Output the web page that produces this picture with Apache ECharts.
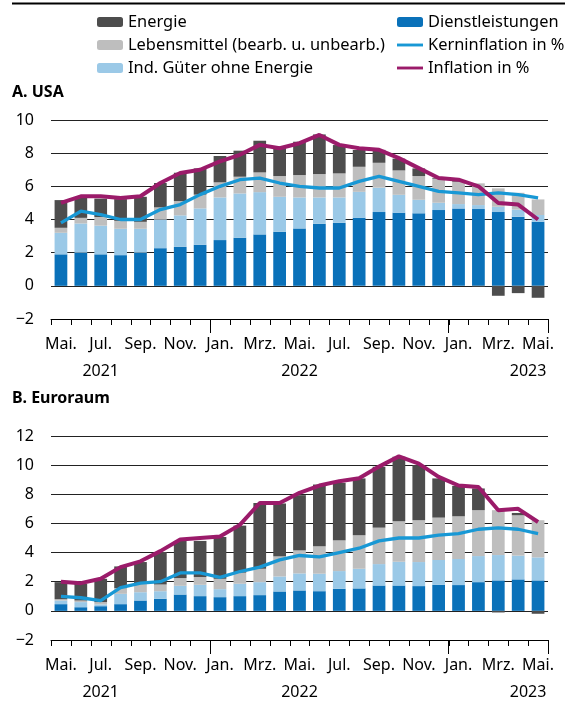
<!DOCTYPE html>
<html>
<head>
<meta charset="utf-8">
<script src="https://cdn.jsdelivr.net/npm/echarts@6/dist/echarts.min.js"></script>
<style>
  html, body { margin: 0; padding: 0; background: #fff; }
  #chart { width: 576px; height: 702px; }
</style>
</head>
<body>
<div id="chart"></div>
<script>
// categories (May 2021 - May 2023)
var cats = ['2021-05','2021-06','2021-07','2021-08','2021-09','2021-10','2021-11','2021-12',
            '2022-01','2022-02','2022-03','2022-04','2022-05','2022-06','2022-07','2022-08',
            '2022-09','2022-10','2022-11','2022-12','2023-01','2023-02','2023-03','2023-04','2023-05'];
var monthLabels = ['Mai.','Jun.','Jul.','Aug.','Sep.','Okt.','Nov.','Dez.','Jan.','Feb.','Mrz.','Apr.',
                   'Mai.','Jun.','Jul.','Aug.','Sep.','Okt.','Nov.','Dez.','Jan.','Feb.','Mrz.','Apr.','Mai.'];
var yearIndex = [2, 12, 24];
var yearLabels = ['2021', '2022', '2023'];
var yearTickIndex = [8, 20];   // January: longer tick on the left edge of the band

// A. USA
var usDienst  = [1.9, 2.0, 1.9, 1.85, 2.0, 2.27, 2.35, 2.47, 2.76, 2.9, 3.1, 3.26, 3.46, 3.74, 3.8, 4.1, 4.45, 4.4, 4.37, 4.57, 4.67, 4.63, 4.45, 4.17, 3.86];
var usGueter  = [1.3, 1.76, 1.73, 1.59, 1.44, 1.73, 1.9, 2.2, 2.57, 2.67, 2.55, 2.11, 1.87, 1.59, 1.53, 1.57, 1.47, 1.09, 0.82, 0.44, 0.26, 0.24, 0.32, 0.43, 0.41];
var usLebens  = [0.3, 0.34, 0.52, 0.48, 0.42, 0.73, 0.86, 0.83, 0.91, 1.01, 1.19, 1.25, 1.35, 1.41, 1.45, 1.51, 1.5, 1.47, 1.43, 1.45, 1.35, 1.31, 1.11, 1.01, 0.94];
var usEnergie = [1.67, 1.23, 1.11, 1.31, 1.51, 1.47, 1.71, 1.58, 1.59, 1.57, 1.91, 1.77, 2.01, 2.39, 1.71, 1.01, 0.78, 0.71, 0.46, 0.05, 0.1, -0.05, -0.6, -0.44, -0.72];
var usKern    = [3.8, 4.5, 4.3, 4.0, 4.0, 4.6, 4.9, 5.5, 6.0, 6.4, 6.5, 6.2, 6.0, 5.9, 5.9, 6.3, 6.6, 6.3, 6.0, 5.7, 5.6, 5.5, 5.6, 5.5, 5.3];
var usInfl    = [5.0, 5.4, 5.4, 5.3, 5.4, 6.2, 6.8, 7.0, 7.5, 7.9, 8.5, 8.3, 8.6, 9.1, 8.5, 8.3, 8.2, 7.7, 7.1, 6.5, 6.4, 6.0, 5.0, 4.9, 4.0];

// B. Euroraum
var euDienst  = [0.46, 0.25, 0.32, 0.46, 0.71, 0.83, 1.12, 1.01, 0.94, 1.01, 1.08, 1.33, 1.4, 1.35, 1.51, 1.54, 1.74, 1.74, 1.7, 1.79, 1.77, 1.97, 2.09, 2.16, 2.09];
var euGueter  = [0.25, 0.35, 0.12, 0.71, 0.57, 0.52, 0.6, 0.78, 0.55, 0.85, 0.89, 1.03, 1.17, 1.2, 1.22, 1.35, 1.47, 1.63, 1.65, 1.7, 1.79, 1.79, 1.74, 1.63, 1.58];
var euLebens  = [0.09, 0.11, 0.16, 0.39, 0.62, 0.46, 0.53, 0.53, 0.71, 0.76, 0.92, 1.38, 1.58, 1.88, 2.11, 2.3, 2.5, 2.78, 2.87, 2.91, 2.93, 3.15, 3.08, 2.77, 2.55];
var euEnergie = [1.17, 1.15, 1.6, 1.49, 1.45, 2.23, 2.55, 2.48, 2.87, 3.23, 4.52, 3.63, 3.79, 4.24, 3.95, 3.9, 4.18, 4.43, 3.78, 2.69, 2.09, 1.49, -0.11, 0.16, -0.2];
var euKern    = [1.0, 0.9, 0.7, 1.6, 1.9, 2.0, 2.6, 2.6, 2.3, 2.7, 3.0, 3.5, 3.8, 3.7, 4.0, 4.3, 4.8, 5.0, 5.0, 5.2, 5.3, 5.6, 5.7, 5.6, 5.3];
var euInfl    = [2.0, 1.9, 2.2, 3.0, 3.4, 4.1, 4.9, 5.0, 5.1, 5.9, 7.4, 7.4, 8.1, 8.6, 8.9, 9.1, 9.9, 10.6, 10.1, 9.2, 8.6, 8.5, 6.9, 7.0, 6.1];

var yMin = -2;

var FONT = 'Noto Sans';
var FS = 16;
var colDienst = '#0a71b9', colGueter = '#9bc9e7', colLebens = '#bebebe', colEnergie = '#4d4d4d';
var colKern = '#1898d5', colInfl = '#9b1b6a';

var nameDienst = 'Dienstleistungen';
var nameGueter = 'Ind. Güter ohne Energie';
var nameLebens = 'Lebensmittel (bearb. u. unbearb.)';
var nameEnergie = 'Energie';
var nameKern = 'Kerninflation in %';
var nameInfl = 'Inflation in %';

// thin bar used as the legend icon of the two lines
var lineIcon = 'path://M0,0H27V3H0Z';

// per grid: month labels + axis line, year labels + long year ticks
function xAxes(gi) {
    var base = { type: 'category', gridIndex: gi, data: cats, position: 'bottom' };
    return [
        Object.assign({}, base, {
            axisLine: { onZero: false, lineStyle: { color: '#000', width: 1 } },
            axisTick: { show: false },
            axisLabel: {
                interval: 1, margin: 17, color: '#000', fontFamily: FONT, fontSize: FS,
                formatter: function (v, i) { return monthLabels[i]; }
            }
        }),
        Object.assign({}, base, {
            axisLine: { show: false, onZero: false },
            axisTick: {
                show: true, length: 14, lineStyle: { color: '#000', width: 1 },
                interval: function (i) { return yearTickIndex.indexOf(i) >= 0; }
            },
            axisLabel: {
                interval: 0, margin: 44, color: '#000', fontFamily: FONT, fontSize: FS,
                formatter: function (v, i) {
                    var k = yearIndex.indexOf(i);
                    if (k < 0) return '';
                    return k === yearIndex.length - 1 ? '{r|' + yearLabels[k] + '}' : yearLabels[k];
                },
                rich: { r: { color: '#000', fontFamily: FONT, fontSize: FS, padding: [0, 20, 0, 0] } }
            }
        })
    ];
}

function yAxis(gi, max) {
    return {
        type: 'value', gridIndex: gi, min: yMin, max: max, interval: 2,
        axisLine: { show: false }, axisTick: { show: false },
        splitLine: { lineStyle: { color: '#222', width: 1 } },
        axisLabel: {
            margin: 17, color: '#000', fontFamily: FONT, fontSize: FS,
            formatter: function (v) { return String(v).replace('-', '\u2212'); }
        }
    };
}

function barSeries(name, data, color, ai, yi, stack) {
    return {
        name: name, type: 'bar', stack: stack, data: data,
        xAxisIndex: ai, yAxisIndex: yi,
        barCategoryGap: '36%', itemStyle: { color: color }
    };
}

function lineSeries(name, data, color, ai, yi, width) {
    return {
        name: name, type: 'line', data: data, xAxisIndex: ai, yAxisIndex: yi,
        symbol: 'none', z: 5, lineStyle: { color: color, width: width }, itemStyle: { color: color }
    };
}

var legendText = { fontFamily: FONT, fontSize: 16.4, color: '#000', lineHeight: 18 };

var baseGraphic = [
    { type: 'rect', shape: { x: 12, y: 2.5, width: 553, height: 2 }, style: { fill: '#000' } },
    { type: 'text', left: 12, top: 84, style: { text: 'A. USA', font: 'bold 16px "Noto Sans"', fill: '#000' } },
    { type: 'text', left: 12, top: 390, style: { text: 'B. Euroraum', font: 'bold 16px "Noto Sans"', fill: '#000' } }
];

var chart = echarts.init(document.getElementById('chart'), null, { renderer: 'canvas' });

var option = {
    animation: false,
    textStyle: { fontFamily: FONT },
    graphic: baseGraphic,
    legend: [{
        orient: 'vertical', left: 92, top: 8, itemWidth: 26, itemHeight: 10, itemGap: 5,
        selectedMode: false, textStyle: legendText,
        data: [nameEnergie, nameLebens, nameGueter]
    }, {
        orient: 'vertical', left: 392, top: 8, itemWidth: 26, itemHeight: 10, itemGap: 5,
        selectedMode: false, textStyle: legendText,
        data: [nameDienst, { name: nameKern, icon: lineIcon }, { name: nameInfl, icon: lineIcon }]
    }],
    grid: [
        { left: 51, right: 28, top: 120, height: 199 },
        { left: 51, right: 28, top: 436, height: 204 }
    ],
    xAxis: xAxes(0).concat(xAxes(1)),
    yAxis: [yAxis(0, 10), yAxis(1, 12)],
    series: [
        barSeries(nameDienst, usDienst, colDienst, 0, 0, 'us'),
        barSeries(nameGueter, usGueter, colGueter, 0, 0, 'us'),
        barSeries(nameLebens, usLebens, colLebens, 0, 0, 'us'),
        barSeries(nameEnergie, usEnergie, colEnergie, 0, 0, 'us'),
        lineSeries(nameKern, usKern, colKern, 0, 0, 3.3),
        lineSeries(nameInfl, usInfl, colInfl, 0, 0, 4),
        barSeries(nameDienst, euDienst, colDienst, 2, 1, 'eu'),
        barSeries(nameGueter, euGueter, colGueter, 2, 1, 'eu'),
        barSeries(nameLebens, euLebens, colLebens, 2, 1, 'eu'),
        barSeries(nameEnergie, euEnergie, colEnergie, 2, 1, 'eu'),
        lineSeries(nameKern, euKern, colKern, 2, 1, 3.3),
        lineSeries(nameInfl, euInfl, colInfl, 2, 1, 4)
    ]
};

chart.setOption(option);

// short ticks at every band edge, placed through the axes' own scales (drawn as 1px rects)
function edgeTicks(ai, yi) {
    var c0 = chart.convertToPixel({ xAxisIndex: ai }, cats[0]);
    var c1 = chart.convertToPixel({ xAxisIndex: ai }, cats[1]);
    var band = c1 - c0;
    var y = Math.round(chart.convertToPixel({ yAxisIndex: yi }, yMin));
    var out = [];
    for (var e = 0; e <= cats.length; e++) {
        var x = Math.round(c0 + (e - 0.5) * band);
        out.push({
            type: 'rect', z: 100, silent: true,
            shape: { x: x, y: y, width: 1, height: 6 },
            style: { fill: '#000' }
        });
    }
    return out;
}

chart.setOption({ graphic: baseGraphic.concat(edgeTicks(0, 0), edgeTicks(2, 1)) });
</script>
</body>
</html>
